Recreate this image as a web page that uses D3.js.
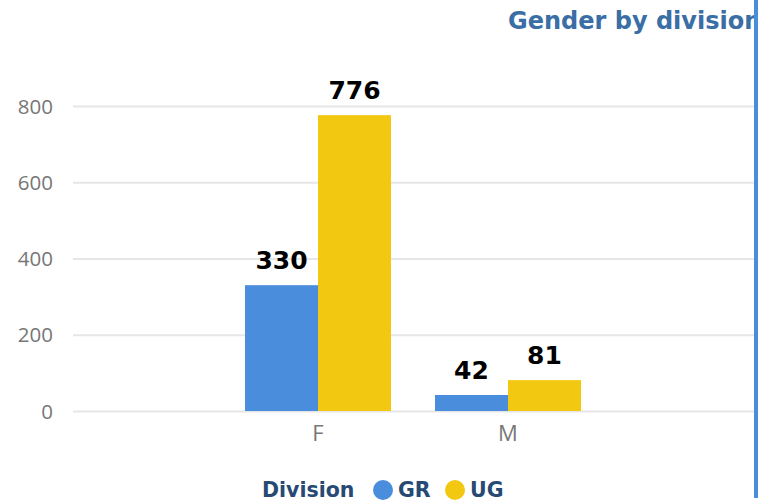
<!DOCTYPE html>
<html>
<head>
<meta charset="utf-8">
<script src="https://cdn.jsdelivr.net/npm/d3@7"></script>
<style>
  html, body { margin: 0; padding: 0; background: #fff; }
  svg { display: block; }
</style>
</head>
<body>
<svg id="chart" width="758" height="502"></svg>
<script>
const categories = ["F", "M"];
const seriesNames = ["GR", "UG"];
const grValues = [330, 42];
const ugValues = [776, 81];
const yTicks = [0, 200, 400, 600, 800];
const titleText = "Gender by division";
const legendTitle = "Division";

const colors = { GR: "#4a8ddc", UG: "#f2c811" };
const svg = d3.select("#chart");

const y = d3.scaleLinear().domain([0, 800]).range([411, 106]);
const x0 = d3.scaleBand().domain(categories).range([223, 603]).paddingInner(0.2316).paddingOuter(0.1158);
const x1 = d3.scaleBand().domain(seriesNames).range([0, x0.bandwidth()]);

// gridlines
const grid = svg.append("g").attr("transform", "translate(73,0)")
  .call(d3.axisLeft(y).tickValues(yTicks).tickSize(-(754 - 73)).tickFormat(""));
grid.select(".domain").remove();
grid.selectAll("line").attr("stroke", "#e6e6e6").attr("stroke-width", 2);

// y labels
const yAxis = svg.append("g").attr("transform", "translate(53,0)")
  .call(d3.axisLeft(y).tickValues(yTicks).tickSize(0).tickPadding(0));
yAxis.select(".domain").remove();
yAxis.selectAll("text").attr("fill", "#777").attr("font-family", "'Open Sans', sans-serif")
  .attr("font-size", 20.5).attr("dy", "0.35em");

// x labels
const xAxis = svg.append("g").attr("transform", "translate(0,411)")
  .call(d3.axisBottom(x0).tickSize(0).tickPadding(14));
xAxis.select(".domain").remove();
xAxis.selectAll("text").attr("fill", "#777").attr("font-family", "'Open Sans', sans-serif")
  .attr("font-size", 22);

const data = categories.map((c, i) => ({ cat: c, vals: [{ s: "GR", v: grValues[i] }, { s: "UG", v: ugValues[i] }] }));

const groups = svg.append("g").selectAll("g").data(data).join("g")
  .attr("transform", d => `translate(${x0(d.cat)},0)`);

groups.selectAll("rect").data(d => d.vals).join("rect")
  .attr("x", d => x1(d.s))
  .attr("y", d => y(d.v))
  .attr("width", x1.bandwidth())
  .attr("height", d => y(0) - y(d.v))
  .attr("fill", d => colors[d.s]);

groups.selectAll("text").data(d => d.vals).join("text")
  .attr("x", d => x1(d.s) + x1.bandwidth() / 2)
  .attr("y", d => y(d.v) - 16)
  .attr("text-anchor", "middle")
  .attr("font-family", "'DejaVu Sans', sans-serif")
  .attr("font-weight", "bold")
  .attr("font-size", 25)
  .attr("fill", "#000")
  .text(d => d.v);

// title (clipped at right, as in the reference)
svg.append("clipPath").attr("id", "clipTitle").append("rect").attr("x", 0).attr("y", 0).attr("width", 754).attr("height", 60);
svg.append("text").attr("clip-path", "url(#clipTitle)")
  .attr("x", 508).attr("y", 29)
  .attr("font-family", "'DejaVu Sans', sans-serif").attr("font-weight", "bold")
  .attr("font-size", 24).attr("fill", "#3a6ea5")
  .text(titleText);

// right blue border
svg.append("rect").attr("x", 754).attr("y", 0).attr("width", 4).attr("height", 498).attr("fill", "#4a8ddc");

// legend
const lg = svg.append("g");
lg.append("text").attr("x", 262).attr("y", 497)
  .attr("font-family", "'DejaVu Sans', sans-serif").attr("font-weight", "bold")
  .attr("font-size", 20.5).attr("fill", "#264a73").text(legendTitle);
const legendX = { GR: 383, UG: 455 };
seriesNames.forEach(s => {
  lg.append("circle").attr("cx", legendX[s]).attr("cy", 490).attr("r", 10).attr("fill", colors[s]);
  lg.append("text").attr("x", legendX[s] + 15).attr("y", 497)
    .attr("font-family", "'DejaVu Sans', sans-serif").attr("font-weight", "bold")
    .attr("font-size", 20.5).attr("fill", "#264a73").text(s);
});
</script>
</body>
</html>
